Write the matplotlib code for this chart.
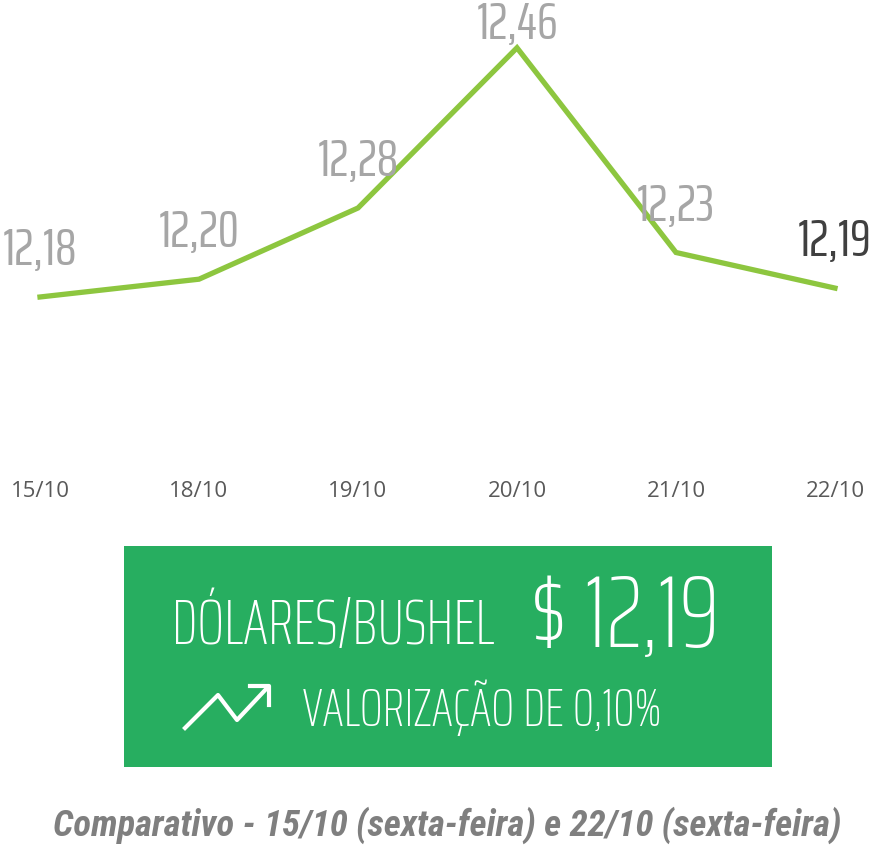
import matplotlib
matplotlib.use("Agg")
import matplotlib.pyplot as plt
from matplotlib.patches import Rectangle
from matplotlib.lines import Line2D

# chart data
dates = ["15/10", "18/10", "19/10", "20/10", "21/10", "22/10"]
prices = [12.18, 12.20, 12.28, 12.46, 12.23, 12.19]
price_labels = ["12,18", "12,20", "12,28", "12,46", "12,23", "12,19"]

box_title = "DÓLARES/BUSHEL"
box_value = "$ 12,19"
box_change = "VALORIZAÇÃO DE 0,10%"
caption = "Comparativo - 15/10 (sexta-feira) e 22/10 (sexta-feira)"

W, H = 876, 846
fig = plt.figure(figsize=(W / 100, H / 100), dpi=100)


def px(x, y):
    # pixel position (from top-left) -> figure fraction
    return x / W, 1 - y / H


# line chart area
ax = fig.add_axes([0, 1 - 470 / H, 1, 470 / H])
ax.plot(range(len(prices)), prices, color="#8DC63F", lw=3.8, solid_joinstyle="miter")
ax.set_xlim(-0.2516, 5.258)
ax.set_ylim(11.9856, 12.5137)
for s in ax.spines.values():
    s.set_visible(False)
ax.set_yticks([])
ax.set_xticks(range(len(dates)))
ax.set_xticklabels(dates, fontfamily="Open Sans", fontsize=16, color="#595959")
ax.tick_params(axis="x", length=0, pad=8)

for i, (v, lab) in enumerate(zip(prices, price_labels)):
    last = i == len(prices) - 1
    off = 6 if v == max(prices) else 23
    ax.annotate(lab, (i, v), xytext=(0, off), textcoords="offset points",
                ha="center", va="baseline", fontfamily="Saira ExtraCondensed",
                fontweight="normal", fontsize=38,
                color="#404040" if last else "#A6A6A6", annotation_clip=False)

# green summary box
x0, y0 = px(124, 767)
fig.patches.append(Rectangle((x0, y0), 648 / W, 221 / H, transform=fig.transFigure,
                             facecolor="#27AE60", edgecolor="none", zorder=0))

box_font = dict(fontfamily="Saira ExtraCondensed", fontweight="light", color="white",
                va="baseline", ha="left")
fig.text(*px(172, 644), box_title, fontsize=45, **box_font)
fig.text(*px(530, 647), box_value, fontsize=74, **box_font)
fig.text(*px(303, 726), box_change, fontsize=38.5, **box_font)

# trending-up icon
icon_x = [185, 218, 237, 268]
icon_y = [728, 695, 720, 687]
fig.lines.append(Line2D([px(x, 0)[0] for x in icon_x], [px(0, y)[1] for y in icon_y],
                        transform=fig.transFigure, color="white", lw=3))
head_x = [250, 269, 269]
head_y = [686, 686, 705]
fig.lines.append(Line2D([px(x, 0)[0] for x in head_x], [px(0, y)[1] for y in head_y],
                        transform=fig.transFigure, color="white", lw=3))

fig.text(*px(447, 836), caption, ha="center", va="baseline",
         fontfamily="Roboto Condensed", fontweight="bold", fontstyle="italic",
         fontsize=26.5, color="#7F7F7F")

fig.savefig("out.png", dpi=100, facecolor="white")
